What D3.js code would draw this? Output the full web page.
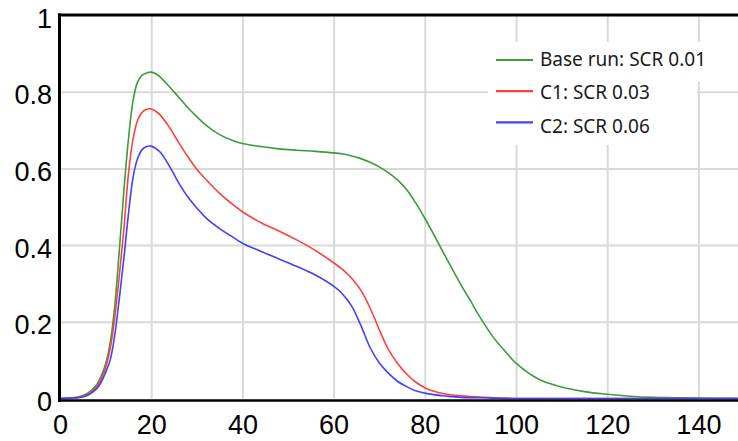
<!DOCTYPE html>
<html>
<head>
<meta charset="utf-8">
<script src="https://cdn.jsdelivr.net/npm/d3@7"></script>
<style>
    body { margin: 0; background: #fff; }
    svg { display: block; }
</style>
</head>
<body>
<svg id="chart" width="738" height="441"></svg>
<script>
"use strict";

// time axis
const xs = [0, 2, 4, 6, 8, 9, 10, 11, 12, 13, 14, 15, 16, 17, 18, 19, 20, 21, 22, 24, 26, 28, 30, 32, 35, 38, 40,
    44, 48, 52, 56, 60, 62, 64, 66, 68, 70, 72, 74, 76, 78, 80, 82, 84, 86, 88, 90, 92, 95, 98, 100,
    105, 110, 115, 120, 125, 130, 135, 140, 145, 150];

const baseRun = [0, 0.001, 0.004, 0.013, 0.035, 0.058, 0.09, 0.145, 0.24, 0.385, 0.54, 0.675, 0.775, 0.825, 0.843, 0.849,
    0.851, 0.847, 0.838, 0.813, 0.786, 0.759, 0.735, 0.713, 0.688, 0.672, 0.665,
    0.657, 0.651, 0.6475, 0.6445, 0.6405, 0.6375, 0.6325, 0.6255, 0.616, 0.604, 0.589, 0.57, 0.545, 0.51, 0.47, 0.427,
    0.382, 0.338, 0.295, 0.255, 0.214, 0.16, 0.118, 0.092,
    0.05, 0.03, 0.018, 0.011, 0.006, 0.003, 0.002, 0.001, 0.0005, 0];

const c1 = [0, 0.001, 0.003, 0.01, 0.03, 0.05, 0.08, 0.13, 0.21, 0.32, 0.44, 0.585, 0.675, 0.725, 0.746, 0.754,
    0.755, 0.749, 0.739, 0.707, 0.668, 0.631, 0.598, 0.571, 0.535, 0.505, 0.487,
    0.459, 0.437, 0.413, 0.386, 0.354, 0.336, 0.313, 0.282, 0.236, 0.18, 0.128, 0.092, 0.064, 0.043, 0.028, 0.019,
    0.013, 0.009, 0.007, 0.005, 0.004, 0.002, 0.001, 0,
    0, 0, 0, 0, 0, 0, 0, 0, 0, 0];

const c2 = [0, 0.001, 0.002, 0.008, 0.025, 0.042, 0.068, 0.1, 0.165, 0.26, 0.365, 0.48, 0.575, 0.625, 0.649, 0.657,
    0.658, 0.652, 0.642, 0.606, 0.563, 0.526, 0.497, 0.471, 0.443, 0.42, 0.405,
    0.384, 0.364, 0.344, 0.322, 0.293, 0.272, 0.24, 0.19, 0.133, 0.093, 0.066, 0.045, 0.031, 0.02, 0.014, 0.01,
    0.007, 0.005, 0.003, 0.002, 0.002, 0.001, 0, 0,
    0, 0, 0, 0, 0, 0, 0, 0, 0, 0];

const seriesNames = ["Base run: SCR 0.01", "C1: SCR 0.03", "C2: SCR 0.06"];
const seriesColors = ["#3a9d3a", "#ff4040", "#4040ff"];
const xTicks = [0, 20, 40, 60, 80, 100, 120, 140];
const yTicks = [0, 0.2, 0.4, 0.6, 0.8, 1];

function drawChart() {
    var svg = d3.select("#chart");
    var width = +svg.attr("width");
    var left = 60, top = 15, bottom = 398.5;

    var xScale = d3.scaleLinear().domain([0, 150]).range([left, left + 150 * 4.56]);
    var yScale = d3.scaleLinear().domain([0, 1]).range([bottom, top]);

    svg.append("defs").append("clipPath").attr("id", "plot-clip")
        .append("rect")
        .attr("x", left).attr("y", top)
        .attr("width", width - left).attr("height", bottom - top + 2);

    // grid
    var xGrid = svg.append("g")
        .attr("transform", "translate(0," + bottom + ")")
        .call(d3.axisBottom(xScale).tickValues(xTicks.slice(1)).tickSize(-(bottom - top)).tickFormat(""));
    var yGrid = svg.append("g")
        .attr("transform", "translate(" + left + ",0)")
        .call(d3.axisLeft(yScale).tickValues(yTicks.slice(1, -1)).tickSize(-(width - left)).tickFormat(""));
    [xGrid, yGrid].forEach(function (g) {
        g.select(".domain").remove();
        g.selectAll(".tick line").attr("stroke", "#d9d9d9").attr("stroke-width", 2);
    });

    // curves
    var line = d3.line()
        .x(function (d, i) { return xScale(xs[i]); })
        .y(function (d) { return yScale(d); })
        .curve(d3.curveCatmullRom.alpha(0.5));
    var plot = svg.append("g").attr("clip-path", "url(#plot-clip)");
    [baseRun, c1, c2].forEach(function (values, i) {
        plot.append("path")
            .datum(values)
            .attr("fill", "none")
            .attr("stroke", seriesColors[i])
            .attr("stroke-width", 1.6)
            .attr("d", line);
    });

    // frame
    var frame = svg.append("g").attr("stroke", "#000").attr("fill", "none");
    frame.append("line").attr("x1", left - 0.5).attr("x2", left - 0.5)
        .attr("y1", top - 1.5).attr("y2", bottom + 3.5).attr("stroke-width", 3);
    frame.append("line").attr("x1", left - 2).attr("x2", width)
        .attr("y1", top).attr("y2", top).attr("stroke-width", 3);
    frame.append("line").attr("x1", left - 2).attr("x2", width)
        .attr("y1", bottom + 2).attr("y2", bottom + 2).attr("stroke-width", 2.5);

    // tick labels
    var xAxis = svg.append("g")
        .attr("transform", "translate(0," + bottom + ")")
        .call(d3.axisBottom(xScale).tickValues(xTicks).tickSize(0).tickPadding(16).tickFormat(d3.format("d")));
    var yAxis = svg.append("g")
        .attr("transform", "translate(" + left + ",0)")
        .call(d3.axisLeft(yScale).tickValues(yTicks).tickSize(0).tickPadding(8).tickFormat(d3.format("")));
    yAxis.selectAll("text").attr("dy", "0.45em");
    [xAxis, yAxis].forEach(function (g) {
        g.select(".domain").remove();
        g.selectAll("text")
            .attr("fill", "#000")
            .style("font-family", "'Liberation Sans', Arial, sans-serif")
            .style("font-size", "27px");
    });

    // legend, white boxes behind the entries
    var legend = svg.append("g");
    legend.append("rect")
        .attr("x", 488).attr("y", 42)
        .attr("width", 224).attr("height", 40)
        .attr("fill", "#fff");
    legend.append("rect")
        .attr("x", 488).attr("y", 82)
        .attr("width", 209).attr("height", 63)
        .attr("fill", "#fff");
    seriesNames.forEach(function (name, i) {
        var ly = 60 + i * 31.2;
        legend.append("line")
            .attr("x1", 496).attr("x2", 533)
            .attr("y1", ly).attr("y2", ly)
            .attr("stroke", seriesColors[i])
            .attr("stroke-width", 2.2);
        legend.append("text")
            .attr("x", 540)
            .attr("y", 65.5 + i * 33.6)
            .attr("fill", "#1a1a1a")
            .style("font-family", "'Noto Sans', sans-serif")
            .style("font-size", "19px")
            .text(name);
    });
}

drawChart();
</script>
</body>
</html>
